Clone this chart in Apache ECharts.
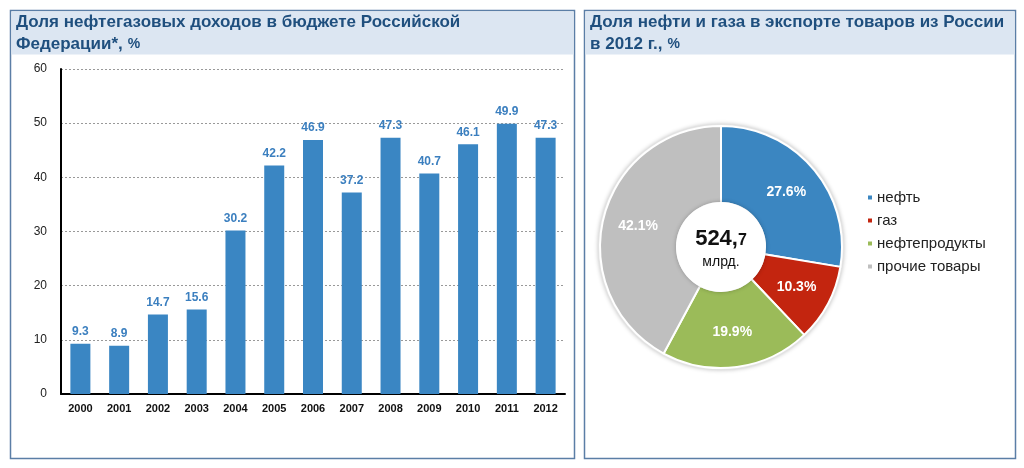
<!DOCTYPE html>
<html><head><meta charset="utf-8">
<script src="https://cdn.jsdelivr.net/npm/echarts@6/dist/echarts.min.js"></script>
<style>html,body{margin:0;padding:0;background:#fff}#c{width:1024px;height:468px}</style>
</head><body><div id="c"></div>
<script>
const years = ['2000','2001','2002','2003','2004','2005','2006','2007','2008','2009','2010','2011','2012'];
const oilGasShare = [9.3, 8.9, 14.7, 15.6, 30.2, 42.2, 46.9, 37.2, 47.3, 40.7, 46.1, 49.9, 47.3];
const yTicks = {min: 0, max: 60, interval: 10};
const exportNames = ['нефть', 'газ', 'нефтепродукты', 'прочие товары'];
const exportShares = [27.6, 10.3, 19.9, 42.1];
const exportColors = ['#3b86c1', '#c3250f', '#9bbb59', '#bfbfbf'];
const totalExport = ['524,', '7', 'млрд.'];

const chart = echarts.init(document.getElementById('c'), null, {renderer: 'canvas'});
const border = '#5b7ea6';
const band = '#dce6f2';
const font = 'Liberation Sans, Arial, sans-serif';

chart.setOption({
  animation: false,
  textStyle: {fontFamily: font},
  graphic: [
    {type: 'rect', z: -10, shape: {x: 10.5, y: 10.5, width: 564, height: 448}, style: {fill: '#fff', stroke: border, lineWidth: 1.5}},
    {type: 'rect', z: -9, shape: {x: 11.5, y: 11.5, width: 562, height: 43}, style: {fill: band}},
    {type: 'rect', z: -10, shape: {x: 584.5, y: 10.5, width: 431, height: 448}, style: {fill: '#fff', stroke: border, lineWidth: 1.5}},
    {type: 'rect', z: -9, shape: {x: 585.5, y: 11.5, width: 429, height: 43}, style: {fill: band}},
    {type: 'circle', z: -5, shape: {cx: 721, cy: 247, r: 123}, style: {fill: '#e4e4e4', shadowBlur: 4, shadowColor: 'rgba(0,0,0,0.25)'}},
    {type: 'circle', z: 50, shape: {cx: 721, cy: 247, r: 45}, style: {fill: '#fff', shadowBlur: 4, shadowColor: 'rgba(0,0,0,0.25)'}},
    {type: 'text', z: 60, x: 721, y: 239, style: {
      text: '{a|' + totalExport[0] + '}{b|' + totalExport[1] + '}',
      align: 'center', verticalAlign: 'middle',
      rich: {a: {fontSize: 22, fontWeight: 'bold', fill: '#111', fontFamily: font},
             b: {fontSize: 16, fontWeight: 'bold', fill: '#111', fontFamily: font, padding: [4,0,0,0]}}
    }},
    {type: 'text', z: 60, x: 721, y: 262, style: {text: totalExport[2], align: 'center', verticalAlign: 'middle', fontSize: 14, fill: '#111', fontFamily: font}}
  ],
  title: [
    {left: 11, top: 6, text: '{t|Доля нефтегазовых доходов в бюджете Российской}\n{t|Федерации*,} {p|%}',
     textStyle: {rich: {t: {fontSize: 17, fontWeight: 'bold', color: '#1f4f7e', fontFamily: font, lineHeight: 22},
                         p: {fontSize: 14, color: '#1f4f7e', fontFamily: font, lineHeight: 22}}}},
    {left: 585, top: 6, text: '{t|Доля нефти и газа в экспорте товаров из России}\n{t|в 2012 г.,} {p|%}',
     textStyle: {rich: {t: {fontSize: 17, fontWeight: 'bold', color: '#1f4f7e', fontFamily: font, lineHeight: 22},
                         p: {fontSize: 14, color: '#1f4f7e', fontFamily: font, lineHeight: 22}}}}
  ],
  legend: {
    data: exportNames, orient: 'vertical', left: 861, top: 185, itemWidth: 6, itemHeight: 6, itemGap: 8,
    icon: 'rect', textStyle: {fontSize: 15, color: '#222', fontFamily: font, padding: [0,0,0,-1]}
  },
  grid: {left: 61, right: 459, top: 69, bottom: 74},
  xAxis: {
    type: 'category', data: years,
    axisLine: {lineStyle: {color: '#000', width: 2}},
    axisTick: {show: false},
    axisLabel: {fontSize: 11, fontWeight: 'bold', color: '#111', margin: 9}
  },
  yAxis: {
    type: 'value', min: yTicks.min, max: yTicks.max, interval: yTicks.interval,
    axisLine: {show: true, lineStyle: {color: '#000', width: 2}},
    axisTick: {show: false},
    axisLabel: {fontSize: 12, color: '#222', margin: 14},
    splitLine: {lineStyle: {color: '#999', type: [2, 2], width: 1}}
  },
  series: [
    {type: 'bar', data: oilGasShare, barWidth: 20, itemStyle: {color: '#3a86c3'},
     label: {show: true, position: 'top', distance: 6, fontSize: 12, fontWeight: 'bold', color: '#3b7fbf'}},
    {type: 'pie', center: [721, 247], radius: [44, 121], startAngle: 90, clockwise: true,
     data: exportNames.map((n, i) => ({name: n, value: exportShares[i], itemStyle: {color: exportColors[i]}})),
     itemStyle: {borderColor: '#fff', borderWidth: 2},
     label: {show: true, position: 'inside', formatter: '{c}%', color: '#fff', fontSize: 14, fontWeight: 'bold'},
     labelLine: {show: false}, emphasis: {disabled: true}}
  ]
});
</script></body></html>
